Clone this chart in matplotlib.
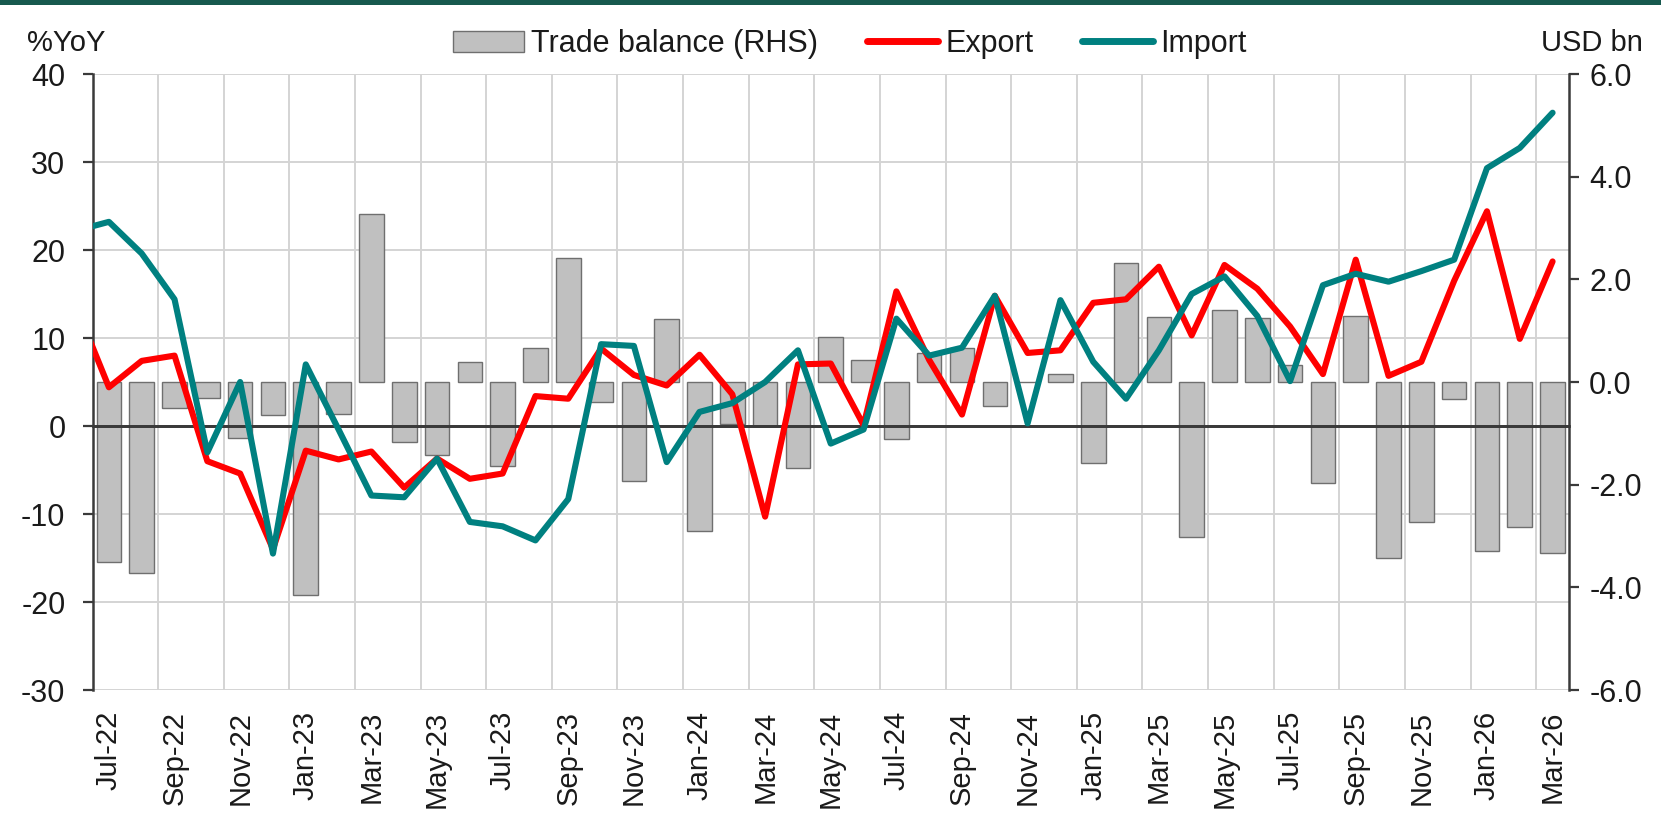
import matplotlib
matplotlib.use("Agg")
import matplotlib.pyplot as plt
from matplotlib.ticker import FixedLocator, NullFormatter, FixedFormatter, FuncFormatter
from matplotlib.patches import Patch, Rectangle
from matplotlib.lines import Line2D

plt.rcParams['font.family'] = ['Liberation Sans', 'DejaVu Sans']
plt.rcParams['axes.unicode_minus'] = False

# ---------------- data ----------------
months = ["Jul-22", "Aug-22", "Sep-22", "Oct-22", "Nov-22", "Dec-22",
          "Jan-23", "Feb-23", "Mar-23", "Apr-23", "May-23", "Jun-23",
          "Jul-23", "Aug-23", "Sep-23", "Oct-23", "Nov-23", "Dec-23",
          "Jan-24", "Feb-24", "Mar-24", "Apr-24", "May-24", "Jun-24",
          "Jul-24", "Aug-24", "Sep-24", "Oct-24", "Nov-24", "Dec-24",
          "Jan-25", "Feb-25", "Mar-25", "Apr-25", "May-25", "Jun-25",
          "Jul-25", "Aug-25", "Sep-25", "Oct-25", "Nov-25", "Dec-25",
          "Jan-26", "Feb-26", "Mar-26"]

# value for the month before the first label (Jun-22); its segment is clipped at the axis
export_prev = 13.6
import_prev = 22.2

export_yoy = [4.4, 7.4, 8.0, -4.0, -5.4, -14.0,
              -2.8, -3.8, -2.9, -7.0, -3.7, -6.0,
              -5.4, 3.4, 3.1, 8.8, 5.8, 4.6,
              8.1, 3.6, -10.3, 7.0, 7.1, 0.1,
              15.3, 7.5, 1.3, 14.8, 8.3, 8.6,
              14.0, 14.4, 18.1, 10.3, 18.3, 15.6,
              11.3, 5.9, 18.9, 5.7, 7.3, 16.5,
              24.4, 9.9, 18.7]

import_yoy = [23.2, 19.6, 14.4, -3.0, 5.0, -14.5,
              7.0, -0.4, -7.9, -8.1, -3.7, -10.9,
              -11.4, -13.0, -8.3, 9.3, 9.1, -4.1,
              1.6, 2.6, 5.0, 8.6, -2.0, -0.4,
              12.2, 8.0, 8.9, 14.8, 0.3, 14.3,
              7.3, 3.1, 8.6, 15.0, 17.0, 12.5,
              5.1, 16.0, 17.3, 16.4, 17.6, 18.9,
              29.3, 31.6, 35.6]

trade_balance = [-3.50, -3.73, -0.51, -0.31, -1.09, -0.65,
                 -4.15, -0.63, 3.28, -1.16, -1.42, 0.38,
                 -1.64, 0.67, 2.41, -0.39, -1.92, 1.23,
                 -2.90, -0.82, -0.85, -1.68, 0.87, 0.42,
                 -1.12, 0.57, 0.67, -0.47, 0.00, 0.16,
                 -1.58, 2.31, 1.26, -3.02, 1.40, 1.25,
                 0.34, -1.96, 1.28, -3.43, -2.72, -0.33,
                 -3.30, -2.82, -3.33]

lhs_ticks = [-30, -20, -10, 0, 10, 20, 30, 40]
rhs_ticks = [-6.0, -4.0, -2.0, 0.0, 2.0, 4.0, 6.0]

# ---------------- styling ----------------
RED = "#ff0000"
TEAL = "#008080"
BAR_FACE = "#c0c0c0"
BAR_EDGE = "#6f6f6f"
GRID = "#d4d4d4"
AXIS = "#3a3a3a"
TXT = "#1a1a1a"
FS = 21
LW = 4.4

W, H = 1661, 831
fig = plt.figure(figsize=(W / 100, H / 100), dpi=100)
fig.patch.set_facecolor("white")

# top dark band
fig.add_artist(Rectangle((0, 1 - 5 / H), 1, 5 / H, transform=fig.transFigure,
                         facecolor="#17594e", edgecolor="none"))

left, right = 92.5 / W, 1569 / W
top, bottom = 1 - 74 / H, 1 - 690 / H
ax = fig.add_axes([left, bottom, right - left, top - bottom])
ax2 = ax.twinx()   # bars (RHS)
ax3 = ax.twinx()   # lines (LHS scale), drawn on top

n = len(months)
x = list(range(n))
xl = [-1] + x

ax.set_xlim(-0.5, n - 0.5)
ax.set_ylim(-30, 40)
ax3.set_ylim(-30, 40)
ax2.set_ylim(-6, 6)

ax.set_zorder(0)
ax2.set_zorder(1)
ax3.set_zorder(2)
ax2.patch.set_visible(False)
ax3.patch.set_visible(False)

# bars
ax2.bar(x, trade_balance, width=0.75, color=BAR_FACE, edgecolor=BAR_EDGE,
        linewidth=1.0, zorder=2)

# zero line and lines
ax3.axhline(0, color=AXIS, linewidth=2.0, zorder=1)
ax3.plot(xl, [export_prev] + export_yoy, color=RED, linewidth=LW,
         solid_joinstyle="round", solid_capstyle="round", zorder=3)
ax3.plot(xl, [import_prev] + import_yoy, color=TEAL, linewidth=LW,
         solid_joinstyle="round", solid_capstyle="round", zorder=4)

# x ticks: major at category boundaries (every 2), minor at labelled categories
bounds = [i - 0.5 for i in range(0, n, 2)]
ax.xaxis.set_major_locator(FixedLocator(bounds))
ax.xaxis.set_major_formatter(NullFormatter())
ax.xaxis.set_minor_locator(FixedLocator(x[::2]))
ax.xaxis.set_minor_formatter(FixedFormatter(months[::2]))

ax.tick_params(axis="x", which="major", length=0, labelbottom=False)
ax.tick_params(axis="x", which="minor", length=0, labelbottom=True,
               labelrotation=90, labelsize=FS, labelcolor=TXT, pad=15)
ax3.tick_params(axis="x", which="major", direction="out", length=7, width=1.6,
                color=AXIS, labelbottom=False)
ax3.tick_params(axis="x", which="minor", length=0, labelbottom=False)
ax2.tick_params(axis="x", which="both", length=0, labelbottom=False)

# y ticks
ax.set_yticks(lhs_ticks)
ax.tick_params(axis="y", direction="out", length=7.5, width=1.6, color=AXIS,
               labelsize=FS + 1, labelcolor=TXT, pad=12)
ax2.set_yticks(rhs_ticks)
ax2.yaxis.set_major_formatter(FuncFormatter(lambda v, p: f"{v:.1f}"))
ax2.tick_params(axis="y", direction="out", length=7.5, width=1.6, color=AXIS,
                labelsize=FS + 1, labelcolor=TXT, pad=7)
ax3.set_yticks([])

# grid
ax.grid(axis="x", which="major", color=GRID, linewidth=1.4)
ax.grid(axis="y", which="major", color=GRID, linewidth=1.4)
ax.set_axisbelow(True)

# spines
for a in (ax, ax2, ax3):
    for s in a.spines.values():
        s.set_visible(False)
ax.spines["left"].set_visible(True)
ax.spines["left"].set_color(AXIS)
ax.spines["left"].set_linewidth(1.8)
ax2.spines["right"].set_visible(True)
ax2.spines["right"].set_color(AXIS)
ax2.spines["right"].set_linewidth(1.8)
ax3.spines["bottom"].set_visible(True)
ax3.spines["bottom"].set_position(("data", 0))
ax3.spines["bottom"].set_color(AXIS)
ax3.spines["bottom"].set_linewidth(2.0)

# axis titles
fig.text(26.5 / W, 1 - 43 / H, "%YoY", fontsize=FS, color=TXT, ha="left", va="center")
fig.text(1643 / W, 1 - 43 / H, "USD bn", fontsize=FS, color=TXT, ha="right", va="center")

# legend
handles = [Patch(facecolor=BAR_FACE, edgecolor=BAR_EDGE, linewidth=1.0),
           Line2D([], [], color=RED, linewidth=LW + 0.6, solid_capstyle="round"),
           Line2D([], [], color=TEAL, linewidth=LW + 0.6, solid_capstyle="round")]
labels = ["Trade balance (RHS)", "Export", "Import"]
leg = fig.legend(handles, labels, loc="center", bbox_to_anchor=(850 / W, 1 - 44 / H),
                 ncol=3, frameon=False, fontsize=22, handlelength=2.3,
                 handleheight=0.7, handletextpad=0.25, columnspacing=1.6,
                 labelcolor=TXT)

fig.savefig("out.png", dpi=100, facecolor="white")
